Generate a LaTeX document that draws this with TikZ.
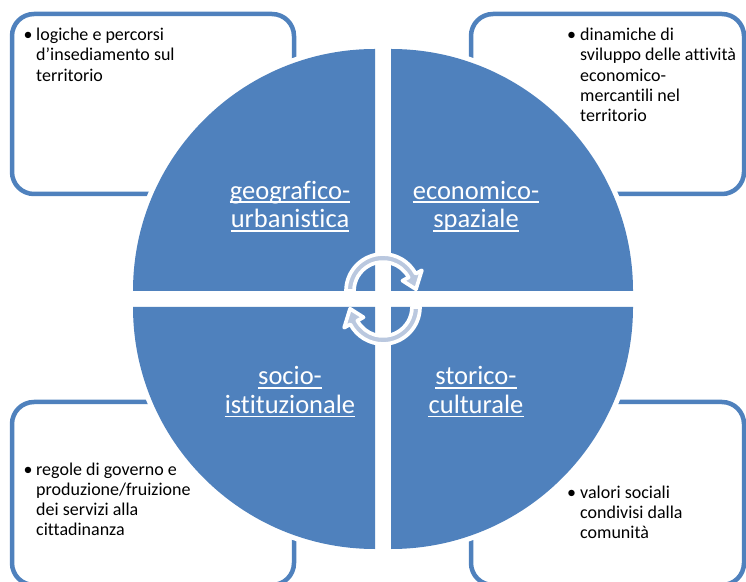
\documentclass[tikz,border=0pt]{standalone}
\usepackage{fontspec}
\setmainfont{Carlito}[Ligatures={NoCommon}]
\definecolor{accent}{HTML}{4F81BD}
\definecolor{arrowfill}{HTML}{BAC8DF}
\tikzset{
  cyc/.pic={
    \path[cyclearrow] (180:37) arc[start angle=180,end angle=28,radius=37]
      -- (28:44) -- (3:33) -- (28:22) -- (28:29)
      arc[start angle=28,end angle=180,radius=29] -- cycle;
  }
}
\begin{document}
\begin{tikzpicture}[x=1pt,y=1pt,
  infobox/.style={draw=accent, line width=4.5pt, rounded corners=22pt, fill=white},
  quad/.style={fill=accent, preaction={draw=white, line width=10pt, line join=round}},
  qlabel/.style={text=white, font=\fontsize{26.5}{29}\selectfont, inner sep=0pt, anchor=base},
  uline/.style={draw=white, line width=1.6pt},
  bodytext/.style={font=\fontsize{18}{20.3}\selectfont, inner sep=0pt, anchor=base west, text=black},
  bulletmark/.style={font=\fontsize{18}{20.3}\selectfont, inner sep=0pt, anchor=base, text=black},
  cyclearrow/.style={fill=arrowfill, draw=white, line width=3.7pt, line join=round}
]
\useasboundingbox (0,0) rectangle (746,581);
\clip (0,0) rectangle (746,581);

% information boxes
\draw[infobox] (12,387) rectangle (294,567);
\draw[infobox] (471,387) rectangle (744,567);
\draw[infobox] (12,-4) rectangle (294,179);
\draw[infobox] (471,-4) rectangle (744,179);

% quadrants
\path[quad] (375,290) -- (133,290) arc[start angle=180,end angle=90,radius=242] -- cycle;
\path[quad] (391,290) -- (391,532) arc[start angle=90,end angle=0,radius=242] -- cycle;
\path[quad] (375,274) -- (375,32) arc[start angle=270,end angle=180,radius=242] -- cycle;
\path[quad] (391,274) -- (633,274) arc[start angle=0,end angle=-90,radius=242] -- cycle;

% quadrant labels
\node[qlabel] (geo1) at (290,381.7) {geografico-};
\node[qlabel] (geo2) at (290,353) {urbanistica};
\node[qlabel] (eco1) at (476,381.7) {economico-};
\node[qlabel] (eco2) at (476,353) {spaziale};
\node[qlabel] (soc1) at (290,196) {socio-};
\node[qlabel] (soc2) at (290,167.5) {istituzionale};
\node[qlabel] (sto1) at (476,196) {storico-};
\node[qlabel] (sto2) at (476,167.5) {culturale};
\foreach \n in {geo1,geo2,eco1,eco2,soc1,soc2,sto1,sto2}
  \draw[uline] ([yshift=-3pt]\n.base west) -- ([yshift=-3pt]\n.base east);

% box texts
\node[bulletmark] (b1) at (28,540.3) {•};
\node[bodytext] (t1) at (36,540.3) {\begin{tabular}[t]{@{}l@{}}logiche e percorsi\\d’insediamento sul\\territorio\end{tabular}};
\node[bulletmark] (b2) at (571.5,540.3) {•};
\node[bodytext] (t2) at (580,540.3) {\begin{tabular}[t]{@{}l@{}}dinamiche di\\sviluppo delle attività\\economico-\\mercantili nel\\territorio\end{tabular}};
\node[bulletmark] (b3) at (28,106) {•};
\node[bodytext] (t3) at (36,106) {\begin{tabular}[t]{@{}l@{}}regole di governo e\\produzione/fruizione\\dei servizi alla\\cittadinanza\end{tabular}};
\node[bulletmark] (b4) at (571.5,82.7) {•};
\node[bodytext] (t4) at (580,82.7) {\begin{tabular}[t]{@{}l@{}}valori sociali\\condivisi dalla\\comunità\end{tabular}};

% cycle arrows
\coordinate (c1) at (383,290);
\coordinate (c2) at (383,274);
\pic at (c1) {cyc};
\pic[rotate=180] at (c2) {cyc};
\end{tikzpicture}
\end{document}
